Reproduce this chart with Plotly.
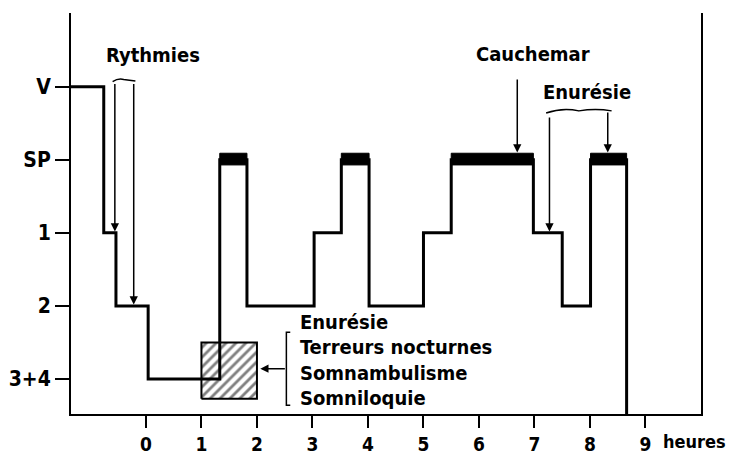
import plotly.graph_objects as go

# hypnogramme : heures des changements de stade et stade atteint
stade_noms = ["3+4", "2", "1", "SP", "V"]
stade_niv = [1, 2, 3, 4, 5]
hyp_heures = [-1.35, -0.76, -0.54, 0.04, 1.33, 1.82, 3.03, 3.52, 4.02, 5.0, 5.5, 6.98, 7.5, 8.01, 8.66]
hyp_stades = [5, 3, 2, 1, 4, 2, 3, 4, 2, 3, 4, 3, 2, 4, 0.52]

# périodes de sommeil paradoxal (barres noires)
sp_debut = [1.33, 3.52, 5.5, 8.01]
sp_fin = [1.82, 4.02, 6.98, 8.66]

# zone hachurée (troubles du sommeil lent profond)
zone_x = [1.0, 2.0]
zone_y = [0.73, 1.5]

heures = list(range(10))
troubles = ["Enurésie", "Terreurs nocturnes", "Somnambulisme", "Somniloquie"]

FONT = "DejaVu Sans Condensed, DejaVu Sans, sans-serif"
txt = dict(family=FONT, size=20, color="black", weight="bold")

fig = go.Figure()

fig.add_trace(go.Scatter(
    x=[zone_x[0], zone_x[1], zone_x[1], zone_x[0], zone_x[0]],
    y=[zone_y[0], zone_y[0], zone_y[1], zone_y[1], zone_y[0]],
    mode="lines", fill="toself", fillcolor="white",
    fillpattern=dict(shape="/", fgcolor="black", bgcolor="white", size=7, solidity=0.4),
    line=dict(color="black", width=2), hoverinfo="skip", showlegend=False))

fig.add_trace(go.Scatter(
    x=hyp_heures, y=hyp_stades, mode="lines", line_shape="hv",
    line=dict(color="black", width=3), showlegend=False))

for a, b in zip(sp_debut, sp_fin):
    fig.add_shape(type="rect", x0=a, x1=b, y0=3.93, y1=4.09,
                  fillcolor="black", line=dict(color="black", width=1))

# flèches
def fleche(x, y, ax, ay):
    fig.add_annotation(x=x, y=y, ax=ax, ay=ay, xref="x", yref="y", axref="x", ayref="y",
                       text="", showarrow=True, arrowhead=2, arrowsize=1.1,
                       arrowwidth=1.5, arrowcolor="black")

fleche(-0.56, 3.02, -0.56, 5.06)
fleche(-0.22, 2.02, -0.22, 5.06)
fleche(6.69, 4.1, 6.69, 5.12)
fleche(7.27, 3.02, 7.27, 4.6)
fleche(8.32, 4.1, 8.32, 4.67)

fleche(2.06, 1.14, 2.53, 1.14)

# accolades
fig.add_shape(type="path", path="M -0.6 5.07 Q -0.5 5.12 -0.4 5.1 Q -0.3 5.09 -0.19 5.08",
              line=dict(color="black", width=1.5))
fig.add_shape(type="path", path="M 7.21 4.64 Q 7.5 4.72 7.8 4.67 Q 8.1 4.71 8.39 4.67",
              line=dict(color="black", width=1.5))
fig.add_shape(type="path", path="M 2.6 1.64 L 2.53 1.64 L 2.53 0.64 L 2.6 0.64",
              line=dict(color="black", width=1.5))

fig.add_annotation(x=0.13, y=5.44, text="Rythmies", showarrow=False, font=txt)
fig.add_annotation(x=6.98, y=5.45, text="Cauchemar", showarrow=False, font=txt)
fig.add_annotation(x=7.94, y=4.93, text="Enurésie", showarrow=False, font=txt)
for t, yy in zip(troubles, [1.78, 1.44, 1.08, 0.74]):
    fig.add_annotation(x=2.74, y=yy, text=t, showarrow=False, xanchor="left", font=txt)
fig.add_annotation(x=9.28, y=0, xref="x", yref="paper", yanchor="top", yshift=-15,
                   xanchor="left", text="heures", showarrow=False,
                   font=dict(family=FONT, size=18, color="black", weight="bold"))

fig.update_layout(
    width=734, height=455, margin=dict(l=71, r=33, t=13, b=41),
    paper_bgcolor="white", plot_bgcolor="white",
    xaxis=dict(range=[-1.35, 10.0], tickvals=heures, ticktext=[str(h) for h in heures],
               automargin=False,
               showgrid=False, zeroline=False, showline=True, linecolor="black", linewidth=2,
               ticks="outside", ticklen=12, tickwidth=2, tickcolor="black",
               tickfont=dict(family=FONT, size=19, color="black", weight="bold")),
    yaxis=dict(range=[0.52, 6.01], tickvals=stade_niv, ticktext=stade_noms,
               automargin=False,
               showgrid=False, zeroline=False, showline=True, mirror=True,
               linecolor="black", linewidth=2,
               ticks="outside", ticklen=14, tickwidth=2, tickcolor="black",
               tickfont=dict(family=FONT, size=21, color="black", weight="bold")),
)

fig.write_html("out.html", config={"displayModeBar": False},
               post_script="document.body.style.margin='0';")
